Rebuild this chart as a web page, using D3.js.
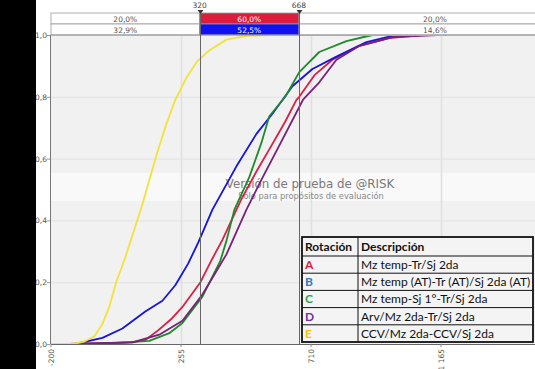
<!DOCTYPE html>
<html><head><meta charset="utf-8">
<script src="https://cdn.jsdelivr.net/npm/d3@7"></script>
<style>html,body{margin:0;padding:0;background:#fff;overflow:hidden}svg{display:block}</style>
</head><body>
<svg id="c" width="535" height="369"></svg>
<script>
// ---- data (value, cumulative probability) ----
const seriesA = [[-200,0],[-137,0],[85,0.005],[130,0.013],[176,0.045],[220,0.08],[260,0.12],[323,0.2],[361,0.27],[400,0.337],[466,0.468],[520,0.56],[564,0.63],[620,0.72],[659,0.79],[669,0.8],[722,0.87],[785,0.92],[880,0.965],[984,0.99],[1096,1],[1180,1]];
const seriesB = [[-200,0],[-115,0],[-20,0.02],[50,0.05],[130,0.105],[190,0.14],[235,0.19],[280,0.26],[316,0.33],[365,0.435],[449,0.575],[519,0.68],[575,0.745],[645,0.834],[715,0.89],[799,0.93],[904,0.977],[995,0.997],[1054,1],[1180,1]];
const seriesC = [[-200,0],[-31,0],[144,0.01],[214,0.035],[260,0.068],[330,0.153],[393,0.27],[415,0.337],[442,0.435],[494,0.54],[536,0.65],[564,0.737],[620,0.8],[669,0.88],[739,0.945],[834,0.98],[925,1],[1180,1]];
const seriesD = [[-200,0],[-139,0],[85,0.005],[179,0.03],[260,0.075],[330,0.16],[372,0.225],[414,0.29],[484,0.435],[543,0.543],[592,0.63],[683,0.792],[739,0.847],[799,0.92],[880,0.965],[995,0.993],[1153,1],[1180,1]];
const seriesE = [[-200,0],[-125,0],[-83,0.008],[-48,0.025],[-20,0.065],[4,0.12],[28,0.2],[60,0.28],[88,0.36],[116,0.44],[144,0.53],[172,0.62],[203,0.71],[235,0.79],[273,0.86],[312,0.915],[354,0.95],[414,0.985],[484,0.997],[564,1],[1180,1]];
const seriesNames = ["A","B","C","D","E"];
const seriesColors = ["#d81f45","#1515d8","#1f8a2a","#7a1f7a","#f2e23a"];
const markers = [320, 668];
const bandRow1 = ["20,0%","60,0%","20,0%"];
const bandRow2 = ["32,9%","52,5%","14,6%"];
const yTicks = [0,0.2,0.4,0.6,0.8,1.0];
const xTicks = [-200,255,710,1165];
const xTickLabels = ["-200","255","710","1 165"];
const legendHeader = ["Rotación","Descripción"];
const legendLetters = ["A","B","C","D","E"];
const legendLetterColors = ["#e0203c","#2e78c0","#2aa050","#7030a0","#ffc000"];
const legendDesc = ["Mz temp-Tr/Sj 2da","Mz temp (AT)-Tr (AT)/Sj 2da (AT)","Mz temp-Sj 1°-Tr/Sj 2da","Arv/Mz 2da-Tr/Sj 2da","CCV/Mz 2da-CCV/Sj 2da"];

const svg = d3.select("#c");
const x = d3.scaleLinear().domain([-200,1620]).range([51,571]);
const y = d3.scaleLinear().domain([0,1]).range([344,35]);

// plot background
svg.append("rect").attr("x",x(-200)).attr("y",y(1)).attr("width",x(1620)-x(-200)).attr("height",y(0)-y(1)).attr("fill","#f1f1f1");
// watermark band
svg.append("rect").attr("x",x(-200)).attr("y",173).attr("width",x(1620)-x(-200)).attr("height",28).attr("fill","#f9f9f9");

// gridlines
svg.append("g").selectAll("line").data(yTicks.slice(1,5)).join("line")
  .attr("x1",x(-200)).attr("x2",x(1620)).attr("y1",d=>y(d)+0.5).attr("y2",d=>y(d)+0.5)
  .attr("stroke","#e2e2e2").attr("stroke-width",1);
svg.append("g").selectAll("line").data(xTicks.slice(1)).join("line")
  .attr("x1",d=>Math.round(x(d))+0.5).attr("x2",d=>Math.round(x(d))+0.5).attr("y1",y(1)).attr("y2",y(0))
  .attr("stroke","#e0e0e0").attr("stroke-width",1.5);

// watermark text
svg.append("text").attr("x",310).attr("y",188).attr("text-anchor","middle")
  .attr("font-family","DejaVu Sans, sans-serif").attr("font-size",11.8).attr("fill","#7a7a7a")
  .text("Versión de prueba de @RISK");
svg.append("text").attr("x",311).attr("y",199).attr("text-anchor","middle")
  .attr("font-family","DejaVu Sans, sans-serif").attr("font-size",8.3).attr("fill","#888")
  .text("Sólo para propósitos de evaluación");

// curves
const line = d3.line().x(d=>x(d[0])).y(d=>y(d[1])).curve(d3.curveLinear);
const allSeries = [seriesA,seriesB,seriesC,seriesD,seriesE];
svg.append("g").selectAll("path").data(allSeries).join("path")
  .attr("d",line).attr("fill","none").attr("stroke",(d,i)=>seriesColors[i]).attr("stroke-width",1.8)
  .attr("stroke-linejoin","round");

// top band
const bandTop = 13, rowH = 11;
const segs = [[-200,markers[0]],[markers[0],markers[1]],[markers[1],1620]];
[bandRow1,bandRow2].forEach((row,r)=>{
  const g = svg.append("g");
  segs.forEach((s,i)=>{
    g.append("rect").attr("x",x(s[0])).attr("y",bandTop+r*rowH).attr("width",x(s[1])-x(s[0])).attr("height",rowH)
      .attr("fill", i===1 ? (r===0 ? "#dc1e3c" : "#1010f0") : "#fff")
      .attr("stroke","#999").attr("stroke-width",0.8);
    g.append("text").attr("x",(x(s[0])+Math.min(x(s[1]),571))/2).attr("y",bandTop+r*rowH+8.5)
      .attr("text-anchor","middle").attr("font-family","DejaVu Sans, sans-serif").attr("font-size",7.5)
      .attr("fill", i===1 ? "#fff" : "#555").text(row[i]);
  });
});

// axes frame
svg.append("line").attr("x1",x(-200)-0.5).attr("x2",x(-200)-0.5).attr("y1",y(1)).attr("y2",y(0)).attr("stroke","#777");
svg.append("line").attr("x1",x(-200)).attr("x2",x(1620)).attr("y1",y(0)+0.5).attr("y2",y(0)+0.5).attr("stroke","#666").attr("stroke-width",1.2);
svg.append("line").attr("x1",x(-200)).attr("x2",x(1620)).attr("y1",y(1)).attr("y2",y(1)).attr("stroke","#999");

// marker lines
markers.forEach(m=>{
  svg.append("line").attr("x1",Math.round(x(m))+0.5).attr("x2",Math.round(x(m))+0.5).attr("y1",11).attr("y2",y(0))
    .attr("stroke","#666").attr("stroke-width",1);
  svg.append("path").attr("d",`M${Math.round(x(m))-2.5},10 L${Math.round(x(m))+3.5},10 L${Math.round(x(m))+0.5},14 Z`).attr("fill","#333");
  svg.append("text").attr("x",x(m)).attr("y",8).attr("text-anchor","middle")
    .attr("font-family","DejaVu Sans, sans-serif").attr("font-size",7.5).attr("fill","#444").text(m);
});

// y axis labels
svg.append("g").selectAll("text").data(yTicks).join("text")
  .attr("x",47).attr("y",d=>y(d)+3).attr("text-anchor","end")
  .attr("font-family","DejaVu Sans, sans-serif").attr("font-size",7.5).attr("fill","#555")
  .text(d=>d3.format(".1f")(d).replace(".",","));
svg.append("g").selectAll("line").data(yTicks).join("line")
  .attr("x1",47).attr("x2",50).attr("y1",d=>y(d)+0.5).attr("y2",d=>y(d)+0.5).attr("stroke","#999");

// x axis labels (rotated)
svg.append("g").selectAll("text").data(xTicks).join("text")
  .attr("transform",(d)=>`translate(${x(d)+3},349) rotate(-90)`).attr("text-anchor","end")
  .attr("font-family","DejaVu Sans, sans-serif").attr("font-size",7.5).attr("fill","#555")
  .text((d,i)=>xTickLabels[i]);
svg.append("g").selectAll("line").data(xTicks).join("line")
  .attr("x1",d=>x(d)).attr("x2",d=>x(d)).attr("y1",y(0)).attr("y2",y(0)+3).attr("stroke","#888");

// legend table
const lx0 = 302, lx1 = 358, lx2 = 533, ly0 = 237, hdrH = 19, rH = 17.2;
const ly1 = ly0 + hdrH + rH*legendLetters.length;
const fs = 12;
const lg = svg.append("g");
lg.append("rect").attr("x",lx0).attr("y",ly0).attr("width",lx2-lx0).attr("height",ly1-ly0).attr("fill","#f4f4f4");
for(let i=0;i<legendLetters.length;i++){
  const yy = ly0+hdrH+rH*i;
  lg.append("line").attr("x1",lx0).attr("x2",lx2).attr("y1",yy).attr("y2",yy).attr("stroke","#111").attr("stroke-width",1);
  lg.append("text").attr("x",lx0+3).attr("y",yy+13).attr("font-family","Lato, sans-serif").attr("font-size",fs)
    .attr("font-weight","bold").attr("fill",legendLetterColors[i]).text(legendLetters[i]);
  lg.append("text").attr("x",lx1+3).attr("y",yy+13).attr("font-family","Lato, sans-serif").attr("font-size",fs)
    .attr("fill","#111").text(legendDesc[i]);
}
lg.append("line").attr("x1",lx1).attr("x2",lx1).attr("y1",ly0).attr("y2",ly1).attr("stroke","#111").attr("stroke-width",1);
lg.append("rect").attr("x",lx0).attr("y",ly0).attr("width",lx2-lx0).attr("height",ly1-ly0).attr("fill","none").attr("stroke","#111").attr("stroke-width",1.8);
lg.append("text").attr("x",lx0+3).attr("y",ly0+14).attr("font-family","Lato, sans-serif").attr("font-size",fs).attr("font-weight","bold").attr("fill","#111").text(legendHeader[0]);
lg.append("text").attr("x",lx1+3).attr("y",ly0+14).attr("font-family","Lato, sans-serif").attr("font-size",fs).attr("font-weight","bold").attr("fill","#111").text(legendHeader[1]);

// left black band
svg.append("rect").attr("x",0).attr("y",0).attr("width",36).attr("height",369).attr("fill","#000");
</script>
</body></html>
